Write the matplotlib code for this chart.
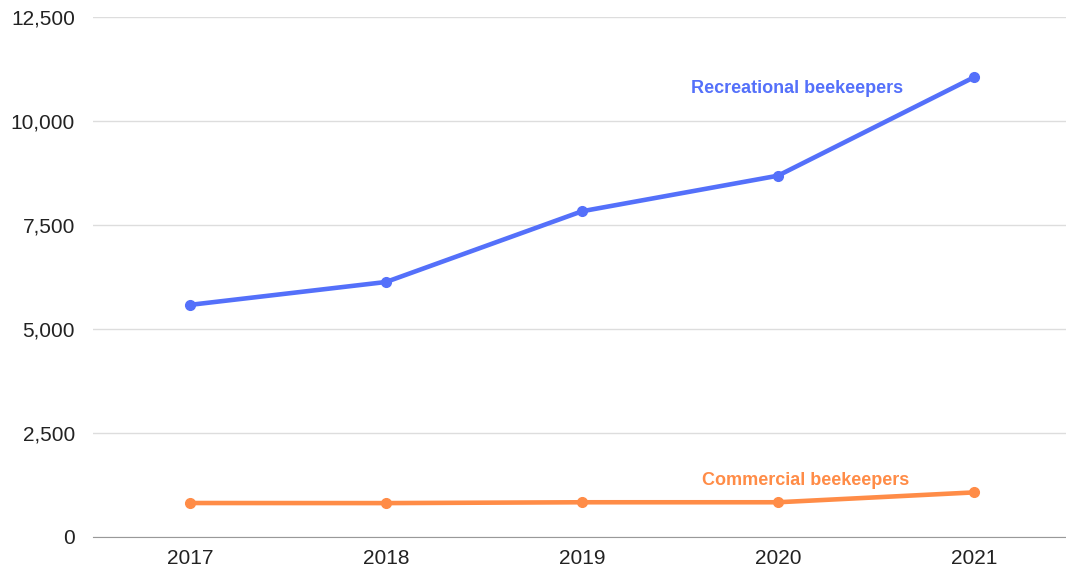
import matplotlib.pyplot as plt
import numpy as np

plt.rcParams["font.family"] = ["Liberation Sans", "DejaVu Sans"]

years = [2017, 2018, 2019, 2020, 2021]
recreational = [5580, 6130, 7830, 8685, 11050]
commercial = [817, 815, 835, 835, 1072]
yticks = [0, 2500, 5000, 7500, 10000, 12500]

blue = "#5470fa"
orange = "#ff8c47"

fig = plt.figure(figsize=(10.66, 5.70), dpi=100)
ax = fig.add_axes([93 / 1066, 33 / 570, 1 - 93 / 1066, (537 - 17) / 570])

ax.plot(years, recreational, color=blue, lw=3.3, marker="o", markersize=7, solid_capstyle="round")
ax.plot(years, commercial, color=orange, lw=3.3, marker="o", markersize=7, solid_capstyle="round")

ax.text(2020.1, 10770, "Recreational beekeepers", color=blue, fontsize=13,
        fontweight="bold", ha="center", va="center")
ax.text(2020.14, 1360, "Commercial beekeepers", color=orange, fontsize=13,
        fontweight="bold", ha="center", va="center")

ax.set_xlim(2016.505, 2021.47)
ax.set_ylim(0, 12500)
ax.set_xticks(years)
ax.set_yticks(yticks)
ax.set_yticklabels([f"{v:,}" for v in yticks])
ax.tick_params(length=0, labelsize=15, labelcolor="#222222")
ax.tick_params(axis="y", pad=13)
ax.tick_params(axis="x", pad=9)

ax.grid(axis="y", color="#dddddd", lw=1)
ax.set_axisbelow(True)
for s in ["top", "right", "left"]:
    ax.spines[s].set_visible(False)
ax.spines["bottom"].set_color("#999999")
ax.spines["bottom"].set_zorder(0)

fig.savefig("out.png", dpi=100)
